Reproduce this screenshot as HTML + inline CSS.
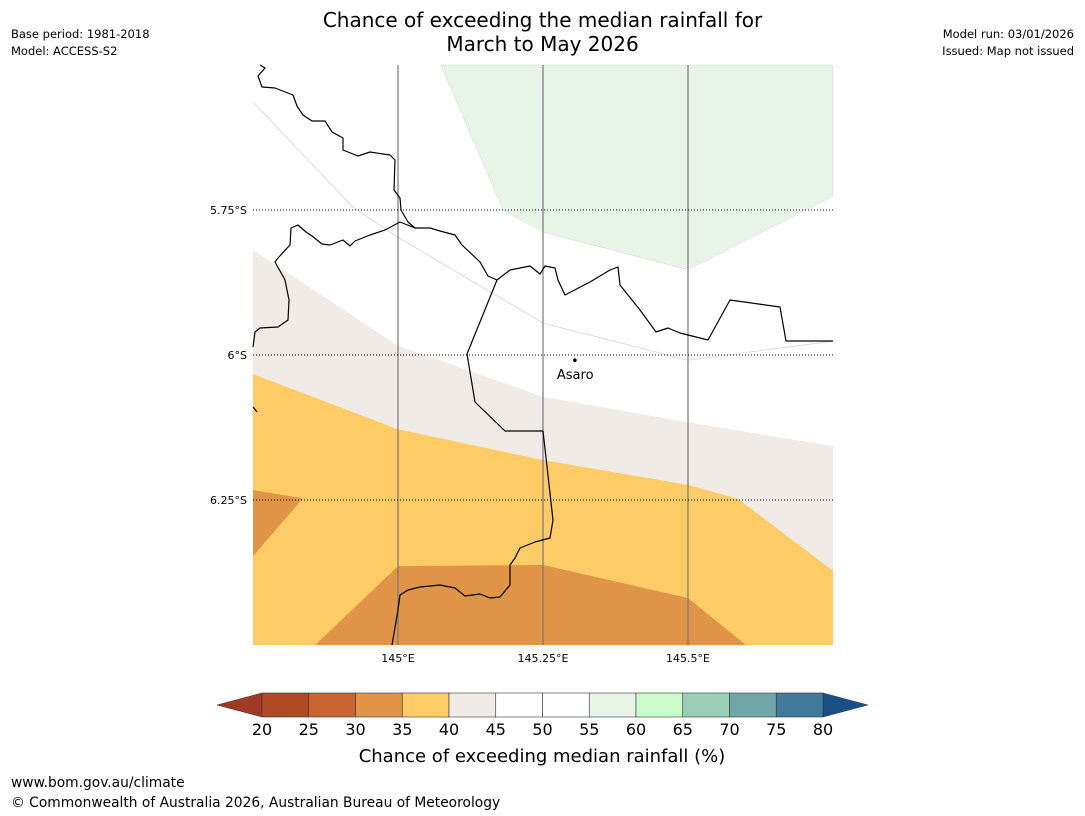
<!DOCTYPE html>
<html><head><meta charset="utf-8"><style>
body{margin:0;background:#fff;font-family:"Liberation Sans","DejaVu Sans",sans-serif}
#wrap{position:relative;width:1085px;height:816px;overflow:hidden}
.t{position:absolute;white-space:nowrap;color:#000}
</style></head><body><div id="wrap">
<div class="t" style="left:0;width:1085px;top:8px;text-align:center;font-size:20px;line-height:24px;font-family:'DejaVu Sans',sans-serif">Chance of exceeding the median rainfall for<br>March to May 2026</div>
<div class="t" style="left:11px;top:27px;font-size:11.5px;font-family:'DejaVu Sans',sans-serif">Base period: 1981-2018</div>
<div class="t" style="left:11px;top:44px;font-size:11.5px;font-family:'DejaVu Sans',sans-serif">Model: ACCESS-S2</div>
<div class="t" style="right:11px;top:27px;font-size:11.5px;font-family:'DejaVu Sans',sans-serif">Model run: 03/01/2026</div>
<div class="t" style="right:11px;top:44px;font-size:11.5px;font-family:'DejaVu Sans',sans-serif">Issued: Map not issued</div>
<div class="t" style="left:11px;top:775px;font-size:13.8px;font-family:'DejaVu Sans',sans-serif">www.bom.gov.au/climate</div>
<div class="t" style="left:11px;top:795px;font-size:13.8px;font-family:'DejaVu Sans',sans-serif">© Commonwealth of Australia 2026, Australian Bureau of Meteorology</div>
<svg id="svg" width="1085" height="816" style="position:absolute;left:0;top:0" font-family="DejaVu Sans, Liberation Sans, sans-serif"></svg>
</div>
<script>
const lonTicks=[145.0,145.25,145.5];
const lonTickLabels=["145°E","145.25°E","145.5°E"];
const latTicks=[5.75,6.0,6.25];
const latTickLabels=["5.75°S","6°S","6.25°S"];
const green55=[[145.074,5.5],[145.181,5.75],[145.25,5.788],[145.5,5.853],[145.75,5.726],[145.75,5.5]];
const beige40=[[144.75,5.819],[145.0,5.984],[145.25,6.072],[145.5,6.116],[145.75,6.157],[145.75,6.372],[145.586,6.248],[145.5,6.224],[145.25,6.181],[145.0,6.128],[144.75,6.033]];
const orange35=[[144.75,6.033],[145.0,6.128],[145.25,6.181],[145.5,6.224],[145.586,6.248],[145.75,6.372],[145.75,6.5],[144.75,6.5]];
const dark30a=[[144.857,6.5],[145.0,6.364],[145.25,6.362],[145.5,6.419],[145.6,6.5]];
const dark30b=[[144.75,6.233],[144.836,6.247],[144.75,6.347]];
const faintLine=[[144.75,5.564],[144.922,5.745],[145.0,5.797],[145.25,5.945],[145.5,6.009],[145.75,5.976]];
const town={name:"Asaro",lon:145.305,lat:6.009};
const cbLevels=[20,25,30,35,40,45,50,55,60,65,70,75,80];
const cbColors=["#b04a25","#cc6431","#e09448","#fecc66","#f0ebe6","#ffffff","#ffffff","#e8f4e8","#ccfccc","#9bcfb8","#6fa6aa","#417a9a"];
const lon0=144.75,lon1=145.75,lat0=5.5,lat1=6.5,X0=253,X1=833,Y0=65,Y1=645;
const px=l=>X0+(l-lon0)/(lon1-lon0)*(X1-X0);
const py=l=>Y0+(l-lat0)/(lat1-lat0)*(Y1-Y0);
const ns="http://www.w3.org/2000/svg",svg=document.getElementById('svg');
function mk(tag,attrs,parent){const e=document.createElementNS(ns,tag);for(const k in attrs)e.setAttribute(k,attrs[k]);(parent||svg).appendChild(e);return e;}
const pts=a=>a.map(p=>px(p[0]).toFixed(1)+","+py(p[1]).toFixed(1)).join(" ");
let e;
e=mk('polygon',{points:pts(green55),fill:"#e8f4e8",stroke:"#cfd8cf","stroke-width":0.5});


e=mk('polygon',{points:pts(beige40),fill:"#f0ebe6"});


e=mk('polygon',{points:pts(orange35),fill:"#fecc66"});


e=mk('polygon',{points:pts(dark30a),fill:"#e09448"});


e=mk('polygon',{points:pts(dark30b),fill:"#e09448"});


e=mk('polyline',{points:pts(faintLine),fill:"none",stroke:"#cfcfcf","stroke-width":0.7});


lonTicks.forEach((v,i)=>{
 e=mk('line',{x1:px(v),x2:px(v),y1:Y0,y2:Y1,stroke:"#777","stroke-width":1.2});
 
 
 e=mk('text',{x:px(v),y:Y1+17,"text-anchor":"middle","font-size":11});e.textContent=lonTickLabels[i];
 
 
});
latTicks.forEach((v,i)=>{
 e=mk('line',{x1:X0,x2:X1,y1:py(v),y2:py(v),stroke:"#000","stroke-width":1,"stroke-dasharray":"1,2"});
 
 
 e=mk('text',{x:X0-6,y:py(v)+4,"text-anchor":"end","font-size":11});e.textContent=latTickLabels[i];
 
 
});
const borders=[
"M260,65 L265,68 L258,76 L262,87 L275,88 L293,95 L297,106 L303,115 L312,121 L325,121 L332,132 L343,138 L343,150 L358,156 L370,152 L390,155 L395,160 L394,190 L400,198 L401,210 L408,222 L415,228",
"M415,228 L400,222 L385,230 L370,235 L355,241 L350,246 L343,240 L330,245 L322,244 L312,236 L306,232 L298,225 L291,228 L290,245 L278,258 L275,262 L285,280 L289,300 L288,320 L278,327 L260,328 L255,332 L253,347",
"M415,228 L430,228 L440,231 L455,235 L462,245 L480,262 L488,276 L497,280 L510,270 L520,268 L530,266 L540,274 L545,266 L555,268 L558,280 L565,295 L590,282 L610,270 L618,267 L620,285 L628,295 L640,310 L656,332 L668,328 L680,333 L708,340 L730,300 L780,307 L786,341 L833,341",
"M497,280 L467,354 L475,402 L505,431 L543,431 L553,520 L550,538 L535,542 L520,548 L515,558 L510,565 L510,585 L500,597 L490,598 L480,594 L465,596 L455,588 L440,585 L420,587 L408,590 L400,595 L398,610 L392,645",
"M253,407 L257,412"];
borders.forEach(d=>{e=mk('path',{d:d,fill:"none",stroke:"#000","stroke-width":1.2,"stroke-linejoin":"round"});

});
e=mk('circle',{cx:px(town.lon),cy:py(town.lat),r:1.8,fill:"#000"});


e=mk('text',{x:px(town.lon)-18,y:py(town.lat)+19,"font-size":13});e.textContent=town.name;


const CB0=262,CB1=823,CBy=693,CBh=24;
const cx=v=>CB0+(v-20)/60*(CB1-CB0);
e=mk('polygon',{points:`${CB0},${CBy} 217,${CBy+CBh/2} ${CB0},${CBy+CBh}`,fill:"#a03a25",stroke:"#333","stroke-width":0.5});


e=mk('polygon',{points:`${CB1},${CBy} 868,${CBy+CBh/2} ${CB1},${CBy+CBh}`,fill:"#1a4f86",stroke:"#333","stroke-width":0.5});


cbColors.forEach((c,i)=>{
 e=mk('rect',{x:cx(cbLevels[i]),y:CBy,width:cx(cbLevels[i+1])-cx(cbLevels[i]),height:CBh,fill:c,stroke:"#333","stroke-width":0.6});
 
 
});
cbLevels.forEach(v=>{
 e=mk('text',{x:cx(v),y:CBy+CBh+18,"text-anchor":"middle","font-size":16});e.textContent=v;
 
 
});
e=mk('text',{x:542,y:762,"text-anchor":"middle","font-size":18});e.textContent="Chance of exceeding median rainfall (%)";


</script></body></html>
